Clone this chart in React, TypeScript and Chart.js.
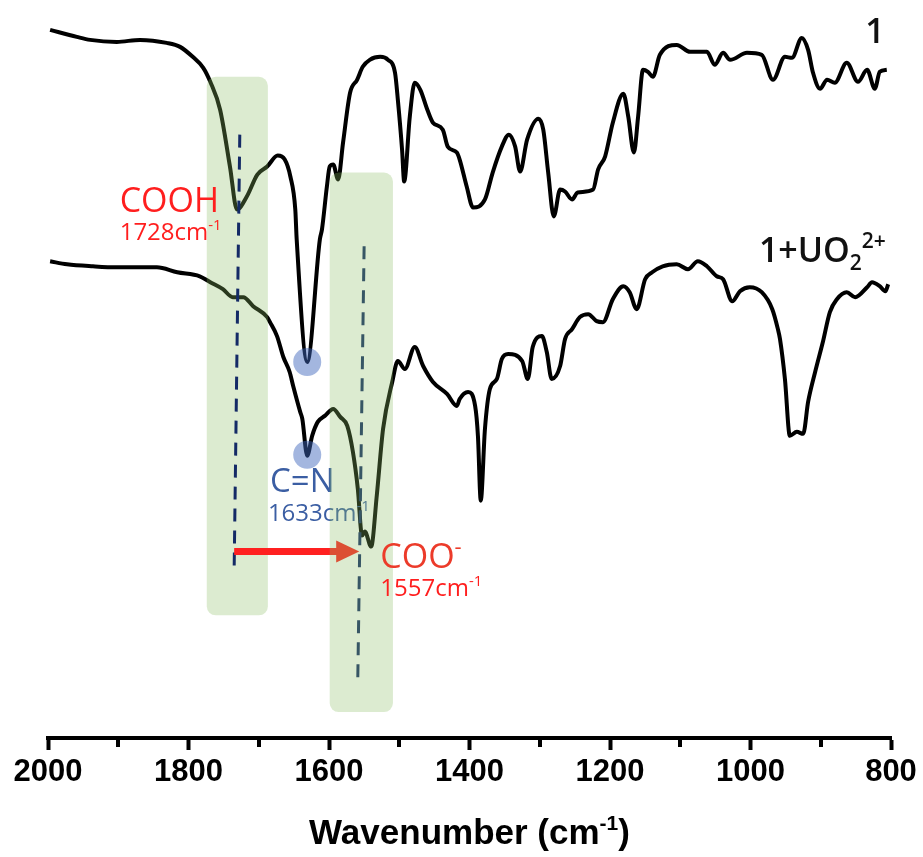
import React, { useEffect, useRef } from 'react';
import { Chart, registerables } from 'chart.js';

Chart.register(...registerables);

// ---------------- data (wavenumber in cm-1, signal in a.u.) ----------------
const wavenumbers1 = [1997, 1959, 1940, 1902, 1869, 1831, 1812, 1794, 1779, 1769, 1755, 1741, 1731, 1717, 1702, 1688, 1673, 1663, 1655, 1648, 1646, 1631, 1613, 1610, 1603, 1599, 1594, 1587, 1580, 1570, 1560, 1552, 1542, 1527, 1516, 1506, 1502, 1496, 1493, 1485, 1478, 1470, 1460, 1452, 1438, 1431, 1418, 1414, 1404, 1395, 1378, 1367, 1354, 1344, 1335, 1328, 1318, 1302, 1295, 1288, 1280, 1271, 1264, 1254, 1246, 1224, 1217, 1207, 1196, 1181, 1174, 1166, 1160, 1153, 1146, 1139, 1129, 1105, 1086, 1062, 1051, 1039, 1029, 1005, 984, 968, 951, 941, 927, 918, 911, 901, 891, 880, 863, 847, 834, 823, 816, 806];
const signal1 = [71.0, 70.3, 70.0, 69.8, 70.0, 69.7, 69.3, 68.3, 67.2, 65.8, 63.0, 57.3, 53.0, 54.3, 56.5, 57.3, 58.4, 58.0, 56.3, 53.0, 50.0, 37.7, 50.0, 51.0, 55.3, 57.3, 57.5, 56.0, 59.7, 64.7, 66.0, 67.3, 68.0, 68.3, 68.0, 66.7, 64.0, 59.0, 55.8, 62.3, 65.7, 65.0, 63.0, 61.7, 61.0, 59.3, 58.7, 58.0, 55.3, 53.2, 54.0, 56.7, 59.3, 60.5, 59.3, 56.8, 60.0, 62.1, 61.0, 56.7, 52.3, 55.0, 54.8, 54.0, 54.7, 55.0, 57.0, 58.3, 61.7, 64.6, 62.3, 58.7, 62.3, 67.0, 66.8, 66.3, 68.5, 69.5, 68.8, 68.8, 67.5, 68.7, 68.0, 68.7, 68.5, 66.0, 68.3, 68.2, 70.2, 69.0, 66.7, 65.1, 66.0, 65.7, 67.7, 65.8, 67.0, 65.1, 66.8, 67.0];

const wavenumbers2 = [1997, 1973, 1936, 1902, 1869, 1845, 1816, 1784, 1769, 1751, 1737, 1722, 1708, 1688, 1684, 1674, 1665, 1656, 1651, 1641, 1638, 1631, 1624, 1616, 1606, 1594, 1584, 1574, 1566, 1559, 1553, 1549, 1540, 1532, 1523, 1510, 1502, 1492, 1478, 1466, 1452, 1432, 1418, 1414, 1402, 1392, 1388, 1384, 1378, 1371, 1361, 1354, 1345, 1325, 1317, 1310, 1297, 1290, 1283, 1271, 1264, 1254, 1243, 1231, 1219, 1210, 1196, 1181, 1172, 1162, 1150, 1140, 1125, 1105, 1089, 1075, 1062, 1048, 1039, 1026, 1015, 1001, 984, 969, 961, 958, 951, 944, 934, 925, 918, 908, 897, 887, 877, 863, 851, 834, 827, 816, 808, 804];
const signal2 = [47.8, 47.5, 47.3, 47.2, 47.2, 47.2, 46.7, 46.3, 45.7, 45.0, 44.2, 44.2, 43.3, 42.2, 41.7, 40.3, 38.2, 36.7, 35.3, 32.7, 32.0, 28.3, 30.3, 31.7, 32.3, 33.0, 32.2, 31.3, 28.7, 25.0, 20.3, 20.7, 19.2, 24.3, 31.0, 35.7, 37.8, 37.0, 39.2, 37.3, 35.7, 34.5, 33.3, 34.0, 34.7, 33.3, 30.3, 23.8, 31.0, 35.0, 36.0, 38.0, 38.5, 37.8, 36.0, 39.2, 40.3, 38.7, 36.0, 37.3, 40.0, 41.0, 42.2, 42.5, 41.8, 41.7, 44.0, 45.3, 44.7, 43.0, 46.0, 46.7, 47.3, 47.5, 47.0, 47.8, 47.3, 46.3, 46.0, 43.8, 44.8, 45.2, 44.7, 43.0, 41.0, 40.0, 36.0, 30.3, 30.7, 30.5, 33.7, 36.7, 39.7, 42.7, 44.0, 44.7, 44.2, 45.2, 45.7, 45.3, 44.8, 45.5];

const axisMin = 800;
const axisMax = 2000;
const majorStep = 200;
const minorTicks = [1900, 1700, 1500, 1300, 1100, 900];
const signalMin = 0;
const signalMax = 74;

// highlighted bands (wavenumber range, signal range)
const bandFrom = [1774, 1599];
const bandTo = [1687, 1509];
const bandTop = [66.3, 56.7];
const bandBottom = [12.3, 2.6];

// dashed peak guides
const guideWnTop = [1727, 1550];
const guideWnBottom = [1735, 1559];
const guideYTop = [60.5, 49.3];
const guideYBottom = [17.0, 6.0];

// C=N peak markers
const peakMarkWn = [1631, 1631];
const peakMarkY = [37.7, 28.4];

// shift arrow COOH -> COO-
const shiftFromWn = 1735;
const shiftToWn = 1557;
const shiftY = 18.7;

type Seg = { t: string; size: number; dy?: number };

const RED = '#ff1e1e';
const BLUE = '#3b5ea3';
const ANN_FONT = '"Open Sans", "Noto Sans", sans-serif';
const AXIS_FONT = '"Liberation Sans", Arial, sans-serif';

function drawSegs(
  ctx: CanvasRenderingContext2D,
  segs: Seg[],
  x: number,
  y: number,
  family: string,
  weight: string,
  color: string,
  align: 'left' | 'right' | 'center'
) {
  ctx.save();
  ctx.fillStyle = color;
  ctx.textBaseline = 'alphabetic';
  ctx.textAlign = 'left';
  const widths = segs.map((s) => {
    ctx.font = `${weight} ${s.size}px ${family}`;
    return ctx.measureText(s.t).width;
  });
  const total = widths.reduce((a, b) => a + b, 0);
  let cx = align === 'left' ? x : align === 'right' ? x - total : x - total / 2;
  segs.forEach((s, i) => {
    ctx.font = `${weight} ${s.size}px ${family}`;
    ctx.fillText(s.t, cx, y + (s.dy || 0));
    cx += widths[i];
  });
  ctx.restore();
}

function drawBand(ctx: CanvasRenderingContext2D, chart: any, i: number) {
  const xs = chart.scales.x;
  const ys = chart.scales.y;
  const x1 = xs.getPixelForValue(bandFrom[i]);
  const x2 = xs.getPixelForValue(bandTo[i]);
  const y1 = ys.getPixelForValue(bandTop[i]);
  const y2 = ys.getPixelForValue(bandBottom[i]);
  ctx.save();
  ctx.fillStyle = 'rgba(140,188,100,0.3)';
  ctx.beginPath();
  if ((ctx as any).roundRect) (ctx as any).roundRect(x1, y1, x2 - x1, y2 - y1, 9);
  else ctx.rect(x1, y1, x2 - x1, y2 - y1);
  ctx.fill();
  ctx.restore();
}

const annotationPlugin = {
  id: 'ftirAnnotations',
  afterDatasetsDraw(chart: any) {
    const ctx: CanvasRenderingContext2D = chart.ctx;
    const xs = chart.scales.x;
    const ys = chart.scales.y;
    const px = (v: number) => xs.getPixelForValue(v);
    const py = (v: number) => ys.getPixelForValue(v);

    // first band over the spectra
    drawBand(ctx, chart, 0);

    // C=N markers
    ctx.save();
    ctx.fillStyle = 'rgba(62,102,188,0.48)';
    peakMarkWn.forEach((wn, i) => {
      ctx.beginPath();
      ctx.arc(px(wn), py(peakMarkY[i]), 14, 0, Math.PI * 2);
      ctx.fill();
    });
    ctx.restore();

    // labels
    drawSegs(ctx, [{ t: 'COOH', size: 34 }], px(1898), py(52.7), ANN_FONT, '400', RED, 'left');
    drawSegs(ctx, [{ t: '1728cm', size: 24 }, { t: '-1', size: 15, dy: -10 }], px(1898), py(49.9), ANN_FONT, '400', RED, 'left');
    drawSegs(ctx, [{ t: 'C=N', size: 33 }], px(1684), py(24.7), ANN_FONT, '400', BLUE, 'left');
    drawSegs(ctx, [{ t: '1633cm', size: 24 }, { t: '-1', size: 15, dy: -10 }], px(1687), py(21.8), ANN_FONT, '400', BLUE, 'left');

    // dashed guides
    ctx.save();
    ctx.strokeStyle = '#142a66';
    ctx.lineWidth = 3;
    ctx.setLineDash([13, 9]);
    guideWnTop.forEach((wn, i) => {
      ctx.beginPath();
      ctx.moveTo(px(wn), py(guideYTop[i]));
      ctx.lineTo(px(guideWnBottom[i]), py(guideYBottom[i]));
      ctx.stroke();
    });
    ctx.restore();

    // shift arrow
    const ax1 = px(shiftFromWn);
    const ax2 = px(shiftToWn);
    const ay = py(shiftY);
    ctx.save();
    ctx.fillStyle = '#ff2020';
    ctx.fillRect(ax1, ay - 3.5, ax2 - ax1 - 20, 7);
    ctx.beginPath();
    ctx.moveTo(ax2, ay);
    ctx.lineTo(ax2 - 23, ay - 11);
    ctx.lineTo(ax2 - 23, ay + 11);
    ctx.closePath();
    ctx.fill();
    ctx.restore();

    // second band
    drawBand(ctx, chart, 1);

    drawSegs(ctx, [{ t: 'COO', size: 34 }, { t: '-', size: 22, dy: -14 }], px(1527), py(17.0), ANN_FONT, '400', '#ec3b2a', 'left');
    drawSegs(ctx, [{ t: '1557cm', size: 24 }, { t: '-1', size: 15, dy: -10 }], px(1527), py(14.2), ANN_FONT, '400', RED, 'left');

    // sample labels
    drawSegs(ctx, [{ t: '1', size: 34 }], px(809), py(69.7), ANN_FONT, '600', '#111', 'right');
    drawSegs(
      ctx,
      [
        { t: '1+UO', size: 34 },
        { t: '2', size: 21, dy: 8 },
        { t: '2+', size: 21, dy: -14 },
      ],
      px(988),
      py(47.7),
      ANN_FONT,
      '600',
      '#111',
      'left'
    );
  },
  afterDraw(chart: any) {
    const ctx: CanvasRenderingContext2D = chart.ctx;
    const xs = chart.scales.x;
    // minor ticks
    ctx.save();
    ctx.fillStyle = '#000';
    minorTicks.forEach((wn) => {
      const x = xs.getPixelForValue(wn);
      ctx.fillRect(Math.round(x) - 2, xs.top, 4, 9);
    });
    ctx.restore();
    // axis title
    const cx = (chart.chartArea.left + chart.chartArea.right) / 2;
    drawSegs(
      ctx,
      [
        { t: 'Wavenumber (cm', size: 35 },
        { t: '-1', size: 21, dy: -14 },
        { t: ')', size: 35 },
      ],
      cx,
      844,
      AXIS_FONT,
      'bold',
      '#000',
      'center'
    );
  },
};

export default function App() {
  const canvasRef = useRef<HTMLCanvasElement>(null);

  useEffect(() => {
    const canvas = canvasRef.current;
    if (!canvas) return;
    const chart = new Chart(canvas, {
      type: 'line',
      data: {
        datasets: [
          {
            label: '1',
            data: wavenumbers1.map((x, i) => ({ x, y: signal1[i] })),
            borderColor: '#000',
            borderWidth: 4,
            pointRadius: 0,
            fill: false,
            cubicInterpolationMode: 'monotone',
          },
          {
            label: '1+UO2 2+',
            data: wavenumbers2.map((x, i) => ({ x, y: signal2[i] })),
            borderColor: '#000',
            borderWidth: 4,
            pointRadius: 0,
            fill: false,
            cubicInterpolationMode: 'monotone',
          },
        ],
      },
      options: {
        animation: false,
        responsive: false,
        maintainAspectRatio: false,
        layout: { padding: { left: 48, right: 32, top: 0, bottom: 0 } },
        plugins: { legend: { display: false }, tooltip: { enabled: false }, title: { display: false } },
        scales: {
          x: {
            type: 'linear',
            reverse: true,
            min: axisMin,
            max: axisMax,
            position: 'bottom',
            afterFit: (scale: any) => {
              scale.height = 119;
            },
            grid: {
              display: true,
              drawOnChartArea: false,
              drawTicks: true,
              tickLength: 12,
              tickWidth: 4,
              tickColor: '#000',
              color: '#000',
            },
            border: { display: true, width: 4, color: '#000' },
            ticks: {
              stepSize: majorStep,
              autoSkip: false,
              maxRotation: 0,
              padding: 4,
              color: '#000',
              font: { family: AXIS_FONT, size: 31, weight: 'bold' },
              callback: (value: any) => String(value),
            },
            title: { display: false },
          },
          y: {
            display: false,
            min: signalMin,
            max: signalMax,
          },
        },
      },
      plugins: [annotationPlugin],
    } as any);
    return () => chart.destroy();
  }, []);

  return (
    <div style={{ position: 'fixed', left: 0, top: 0, width: 923, height: 857, background: '#fff' }}>
      <canvas ref={canvasRef} width={923} height={857} style={{ width: 923, height: 857, display: 'block' }} />
    </div>
  );
}
